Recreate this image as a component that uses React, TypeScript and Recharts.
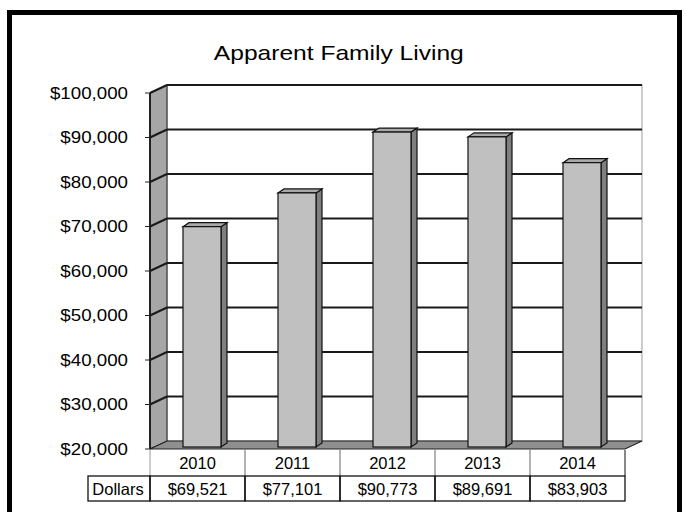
import React from 'react';
import { BarChart, Bar, XAxis, YAxis, CartesianGrid } from 'recharts';

const years = ['2010', '2011', '2012', '2013', '2014'];
const dollars = [69521, 77101, 90773, 89691, 83903];
const yTicks = [20000, 30000, 40000, 50000, 60000, 70000, 80000, 90000, 100000];

const data = years.map((year, i) => ({ year, dollars: dollars[i] }));

const FONT = '"Liberation Sans", Arial, sans-serif';
// 3D depth of the walls and of the bars
const DX = 17;
const DY = 8;
const BX = 6;
const BY = 4;

const money = (v: number) => `$${v.toLocaleString('en-US')}`;

const GridLine = (p: any) => {
  const { x, y, width, height, y1, index } = p;
  const isFloor = Math.abs(y1 - (y + height)) < 1;
  return (
    <g key={`grid-${index}`}>
      {index === 0 && (
        <g>
          {/* back wall */}
          <rect x={x + DX} y={y - DY} width={width} height={height} fill="#fff" stroke="#999" strokeWidth={1} />
          {/* left wall */}
          <polygon
            points={`${x},${y} ${x + DX},${y - DY} ${x + DX},${y + height - DY} ${x},${y + height}`}
            fill="#a6a6a6"
            stroke="#222"
            strokeWidth={1}
          />
          <line x1={x} y1={y} x2={x} y2={y + height} stroke="#222" strokeWidth={2} />
          {/* floor */}
          <polygon
            points={`${x},${y + height} ${x + DX},${y + height - DY} ${x + width + DX},${y + height - DY} ${x + width},${y + height}`}
            fill="#8f8f8f"
            stroke="#222"
            strokeWidth={1.2}
          />
        </g>
      )}
      {!isFloor && (
        <g>
          <line x1={x} y1={y1} x2={x + DX} y2={y1 - DY} stroke="#1a1a1a" strokeWidth={2} />
          <line x1={x + DX} y1={y1 - DY} x2={x + width + DX} y2={y1 - DY} stroke="#1a1a1a" strokeWidth={2} />
        </g>
      )}
    </g>
  );
};

const Bar3D = (p: any) => {
  const { x, y, width, height } = p;
  const fx = x + 4;
  const fy = y - 2;
  return (
    <g>
      <polygon
        points={`${fx + width},${fy} ${fx + width + BX},${fy - BY} ${fx + width + BX},${fy + height - BY} ${fx + width},${fy + height}`}
        fill="#7f7f7f"
        stroke="#111"
        strokeWidth={1.2}
      />
      <polygon
        points={`${fx},${fy} ${fx + BX},${fy - BY} ${fx + width + BX},${fy - BY} ${fx + width},${fy}`}
        fill="#a9a9a9"
        stroke="#111"
        strokeWidth={1.2}
      />
      <rect x={fx} y={fy} width={width} height={height} fill="#c0c0c0" stroke="#111" strokeWidth={1.2} />
    </g>
  );
};

const YTick = (p: any) => {
  const { x, y, payload } = p;
  return (
    <g transform={`translate(${x},${y}) scale(1.17,1)`}>
      <text x={0} y={0} dy="0.36em" textAnchor="end" fontSize={16} fontFamily={FONT} fill="#000">
        {money(payload.value)}
      </text>
    </g>
  );
};

const TableTick = (p: any) => {
  const { x, y, payload, index, width, visibleTicksCount } = p;
  const band = payload && payload.offset ? payload.offset * 2 : width / visibleTicksCount;
  const left = x - band / 2;
  const top = y + 1;
  const rowH = 26;
  return (
    <g>
      <line x1={left} y1={top} x2={left} y2={top + rowH} stroke="#999" strokeWidth={1} />
      <line x1={left + band} y1={top} x2={left + band} y2={top + rowH} stroke={index === years.length - 1 ? '#111' : '#999'} strokeWidth={1} />
      <text x={x} y={top + 19} textAnchor="middle" fontSize={16.5} fontFamily={FONT} fill="#000">
        {payload.value}
      </text>
      <rect x={left} y={top + rowH} width={band} height={rowH - 1} fill="none" stroke="#111" strokeWidth={1.3} />
      <text x={x} y={top + rowH + 18.5} textAnchor="middle" fontSize={16.5} fontFamily={FONT} fill="#000">
        {money(dollars[index])}
      </text>
      {index === 0 && (
        <g>
          <rect x={left - 62} y={top + rowH} width={62} height={rowH - 1} fill="none" stroke="#111" strokeWidth={1.3} />
          <text x={left - 32} y={top + rowH + 18.5} textAnchor="middle" fontSize={16.5} fontFamily={FONT} fill="#000">
            Dollars
          </text>
        </g>
      )}
    </g>
  );
};

export default function App() {
  return (
    <div
      style={{
        position: 'absolute',
        left: 0,
        top: 0,
        width: 686,
        height: 512,
        overflow: 'hidden',
        background: '#fff',
        fontFamily: FONT,
      }}
    >
      <div
        style={{
          position: 'absolute',
          left: 7,
          top: 10,
          width: 665,
          height: 520,
          border: '5px solid #000',
        }}
      />
      <div
        style={{
          position: 'absolute',
          left: 0,
          width: 678,
          top: 40,
          textAlign: 'center',
          fontSize: 21,
          lineHeight: '26px',
          color: '#000',
        }}
      >
        <span style={{ display: 'inline-block', transform: 'scaleX(1.17)' }}>Apparent Family Living</span>
      </div>
      <div style={{ position: 'absolute', left: 0, top: 0 }}>
        <BarChart
          width={686}
          height={512}
          data={data}
          margin={{ top: 93, right: 61, left: 0, bottom: 0 }}
          barSize={38}
        >
          <CartesianGrid vertical={false} horizontal={GridLine} />
          <XAxis
            dataKey="year"
            height={63}
            axisLine={false}
            tickLine={false}
            tickSize={0}
            tickMargin={0}
            interval={0}
            tick={TableTick}
          />
          <YAxis
            width={150}
            domain={[20000, 100000]}
            ticks={yTicks}
            interval={0}
            axisLine={false}
            tickLine={{ stroke: '#222', strokeWidth: 1 }}
            tickSize={5}
            tickMargin={17}
            tick={YTick}
          />
          <Bar dataKey="dollars" isAnimationActive={false} shape={Bar3D} />
        </BarChart>
      </div>
    </div>
  );
}
